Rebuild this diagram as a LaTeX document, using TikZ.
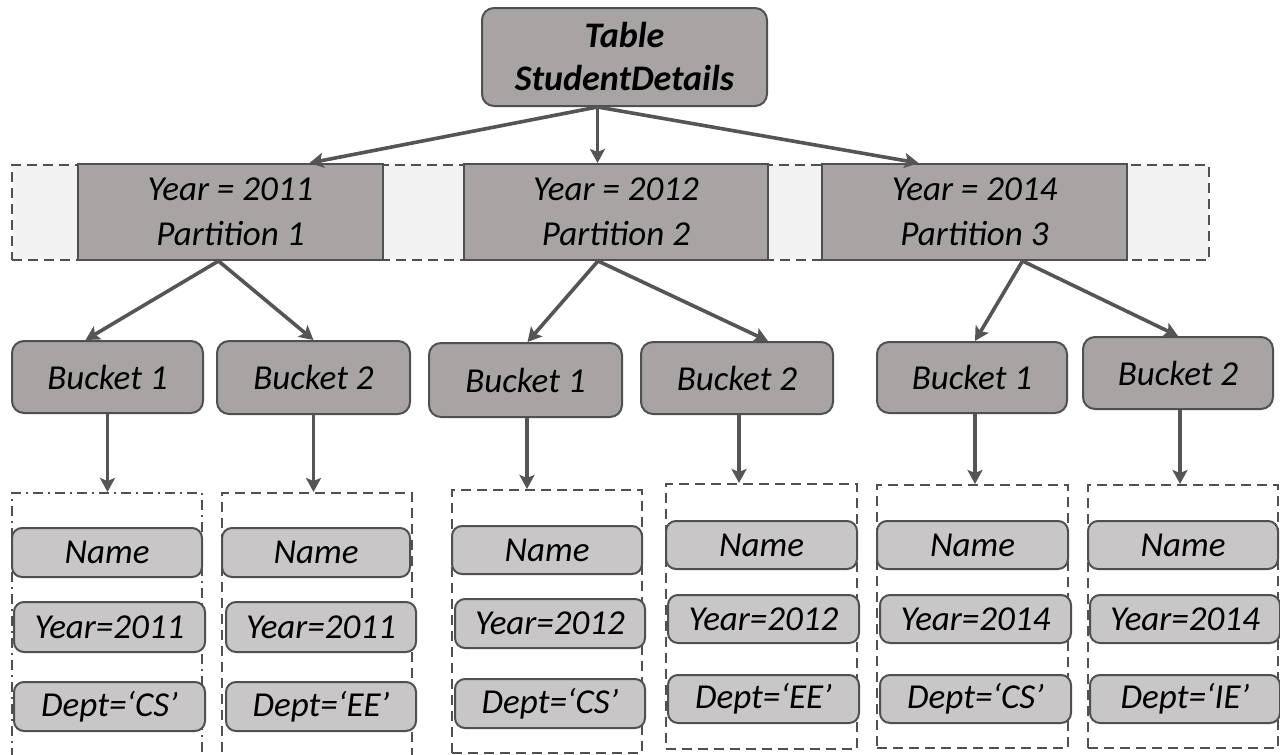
\documentclass[tikz,border=0pt]{standalone}
\usepackage{fontspec}
\setmainfont{Carlito}
\usetikzlibrary{arrows.meta}
\definecolor{dk}{HTML}{A8A4A4}
\definecolor{lt}{HTML}{C8C6C6}
\definecolor{band}{HTML}{F2F2F2}
\definecolor{ln}{HTML}{505050}
\definecolor{ar}{HTML}{555555}
\tikzset{
  base/.style={draw=ln, line width=1pt, inner sep=0pt, align=center,
    font=\fontsize{17.5}{22.5}\selectfont\itshape},
  topbox/.style={base, fill=dk, rounded corners=6pt, font=\fontsize{18}{21.5}\selectfont\bfseries\itshape},
  partbox/.style={base, fill=dk},
  bucketbox/.style={base, fill=dk, rounded corners=6pt},
  attrbox/.style={base, fill=lt, rounded corners=5pt},
  colbox/.style={draw=ln, line width=1pt, dash pattern=on 5pt off 3pt, inner sep=0pt},
  colboxdd/.style={draw=ln, line width=1pt, dash pattern=on 5pt off 2.5pt on 1pt off 2.5pt, inner sep=0pt},
  conn/.style={draw=ar, line width=1.8pt, -{Stealth[length=7pt,width=7.5pt,inset=1.5pt]}},
}
\begin{document}
\begin{tikzpicture}[x=0.5pt,y=-0.5pt]
\useasboundingbox (0,0) rectangle (1280,755);
% partition band
\node[draw=ln, fill=band, line width=1pt, dash pattern=on 5pt off 3pt, minimum width=598.5pt, minimum height=47.5pt, inner sep=0pt] (band) at (610.5,212.5) {};
% top
\node[topbox, minimum width=142.5pt, minimum height=49pt] (top) at (624.5,57) {Table\\StudentDetails};
% partitions
\node[partbox, minimum width=152.5pt, minimum height=48pt] (p1) at (230.5,212) {Year = 2011\\Partition 1};
\node[partbox, minimum width=152pt, minimum height=48pt] (p2) at (616,212) {Year = 2012\\Partition 2};
\node[partbox, minimum width=152.5pt, minimum height=48pt] (p3) at (974.5,212) {Year = 2014\\Partition 3};
% buckets
\node[bucketbox, minimum width=95.5pt, minimum height=36pt] (b11) at (107.5,377) {Bucket 1};
\node[bucketbox, minimum width=96.5pt, minimum height=36.5pt] (b12) at (313.5,377.5) {Bucket 2};
\node[bucketbox, minimum width=96.5pt, minimum height=37pt] (b21) at (525.5,380) {Bucket 1};
\node[bucketbox, minimum width=96pt, minimum height=36pt] (b22) at (737,378) {Bucket 2};
\node[bucketbox, minimum width=95pt, minimum height=35.5pt] (b31) at (972,377.5) {Bucket 1};
\node[bucketbox, minimum width=95pt, minimum height=36pt] (b32) at (1178,373) {Bucket 2};
% columns
\node[colboxdd, minimum width=95pt, minimum height=133.5pt] (c1) at (107,626.5) {};
\node[colbox, minimum width=95pt, minimum height=133.5pt] (c2) at (317,626.5) {};
\node[colbox, minimum width=95pt, minimum height=131.5pt] (c3) at (547,621.5) {};
\node[colbox, minimum width=95.5pt, minimum height=132.5pt] (c4) at (761.5,616.5) {};
\node[colbox, minimum width=95.5pt, minimum height=131.5pt] (c5) at (972.5,616.5) {};
\node[colbox, minimum width=95pt, minimum height=131.5pt] (c6) at (1183,616.5) {};
% attribute boxes
\node[attrbox, minimum width=95pt, minimum height=24.5pt] (n1) at (107,552.5) {Name};
\node[attrbox, minimum width=95.5pt, minimum height=25pt] (y1) at (109.5,627) {Year=2011};
\node[attrbox, minimum width=95.5pt, minimum height=24.5pt] (d1) at (109.5,706.5) {Dept=`CS'};
\node[attrbox, minimum width=94pt, minimum height=24.5pt] (n2) at (316,552.5) {Name};
\node[attrbox, minimum width=95pt, minimum height=25pt] (y2) at (321,627) {Year=2011};
\node[attrbox, minimum width=95pt, minimum height=24.5pt] (d2) at (321,706.5) {Dept=`EE'};
\node[attrbox, minimum width=95pt, minimum height=24pt] (n3) at (547,550) {Name};
\node[attrbox, minimum width=95pt, minimum height=24.5pt] (y3) at (550,623.5) {Year=2012};
\node[attrbox, minimum width=95pt, minimum height=24.5pt] (d3) at (550,703.5) {Dept=`CS'};
\node[attrbox, minimum width=95.5pt, minimum height=24pt] (n4) at (761.5,545) {Name};
\node[attrbox, minimum width=95.5pt, minimum height=24pt] (y4) at (763.5,619) {Year=2012};
\node[attrbox, minimum width=95.5pt, minimum height=24pt] (d4) at (763.5,699) {Dept=`EE'};
\node[attrbox, minimum width=95.5pt, minimum height=24pt] (n5) at (972.5,545) {Name};
\node[attrbox, minimum width=95.5pt, minimum height=24pt] (y5) at (975.5,619) {Year=2014};
\node[attrbox, minimum width=95.5pt, minimum height=24pt] (d5) at (975.5,699) {Dept=`CS'};
\node[attrbox, minimum width=95pt, minimum height=24pt] (n6) at (1183,545) {Name};
\node[attrbox, minimum width=95pt, minimum height=24pt] (y6) at (1185,619) {Year=2014};
\node[attrbox, minimum width=95pt, minimum height=24pt] (d6) at (1185,699) {Dept=`IE'};
% connectors
\coordinate (ts) at ([xshift=-13.5pt]top.south);
\draw[conn] (ts) -- ([xshift=39.5pt]p1.north);
\draw[conn] (ts) -- (ts |- p2.north);
\draw[conn] (ts) -- ([xshift=-28pt]p3.north);
\coordinate (p1s) at ([xshift=-6pt]p1.south);
\draw[conn] (p1s) -- ([xshift=-11pt]b11.north);
\draw[conn] (p1s) -- ([xshift=0pt]b12.north);
\coordinate (p2s) at ([xshift=-9pt]p2.south);
\draw[conn] (p2s) -- ([xshift=1pt]b21.north);
\draw[conn] (p2s) -- ([xshift=15.5pt]b22.north);
\coordinate (p3s) at ([xshift=24pt]p3.south);
\draw[conn] (p3s) -- ([xshift=1.5pt]b31.north);
\draw[conn] (p3s) -- ([xshift=0pt]b32.north);
\draw[conn] (b11.south) -- (b11.south |- c1.north);
\draw[conn] (b12.south) -- (b12.south |- c2.north);
\draw[conn] ([xshift=0.75pt]b21.south) -- ([xshift=0.75pt]b21.south |- c3.north);
\draw[conn] ([xshift=1pt]b22.south) -- ([xshift=1pt]b22.south |- c4.north);
\draw[conn] ([xshift=1.5pt]b31.south) -- ([xshift=1.5pt]b31.south |- c5.north);
\draw[conn] ([xshift=1pt]b32.south) -- ([xshift=1pt]b32.south |- c6.north);
\end{tikzpicture}
\end{document}
